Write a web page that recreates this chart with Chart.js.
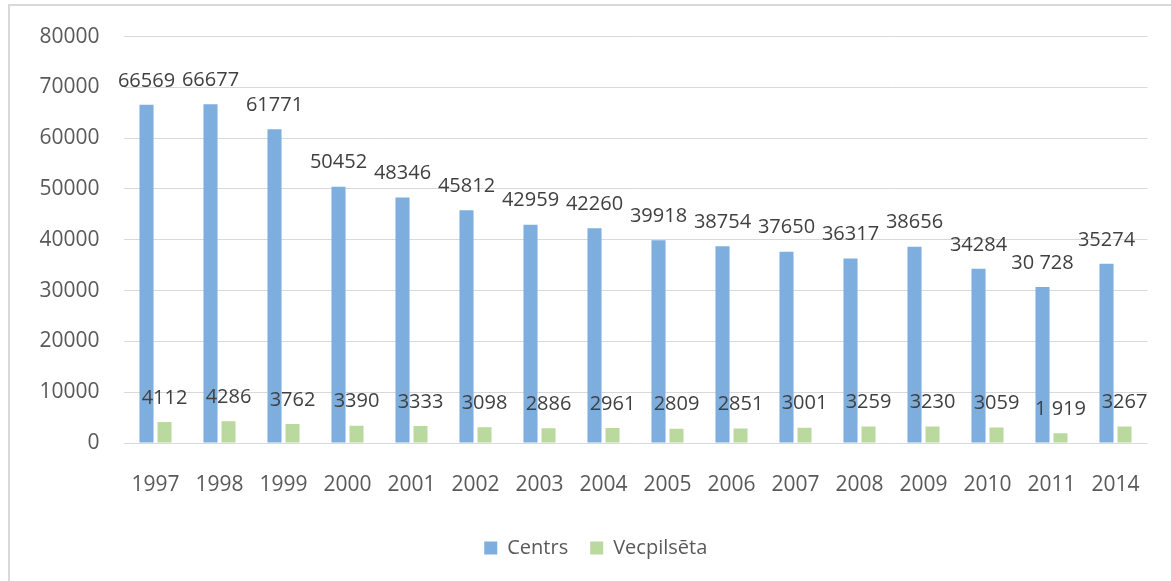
<!DOCTYPE html>
<html>
<head>
<meta charset="utf-8">
<script src="https://cdn.jsdelivr.net/npm/chart.js@4/dist/chart.umd.min.js"></script>
<style>
    html, body { margin: 0; padding: 0; background: #fff; }
    #wrap { position: relative; width: 1171px; height: 581px; overflow: hidden; }
    #frame {
        position: absolute; left: 8px; top: 4px; width: 1200px; height: 620px;
        border-left: 2px solid #d9d9d9; border-top: 2px solid #d9d9d9;
    }
    #chart { position: absolute; left: 0; top: 0; }
</style>
</head>
<body>
<div id="wrap">
    <div id="frame"></div>
    <canvas id="chart" width="1171" height="581"></canvas>
</div>
<script>
// Data
const years = ['1997', '1998', '1999', '2000', '2001', '2002', '2003', '2004',
               '2005', '2006', '2007', '2008', '2009', '2010', '2011', '2014'];
const centrs = [66569, 66677, 61771, 50452, 48346, 45812, 42959, 42260,
                39918, 38754, 37650, 36317, 38656, 34284, 30728, 35274];
const vecpilseta = [4112, 4286, 3762, 3390, 3333, 3098, 2886, 2961,
                    2809, 2851, 3001, 3259, 3230, 3059, 1919, 3267];
// label texts as printed (two of them use a thousands space)
const centrsText = ['66569', '66677', '61771', '50452', '48346', '45812', '42959', '42260',
                    '39918', '38754', '37650', '36317', '38656', '34284', '30 728', '35274'];
const vecpilsetaText = ['4112', '4286', '3762', '3390', '3333', '3098', '2886', '2961',
                        '2809', '2851', '3001', '3259', '3230', '3059', '1 919', '3267'];
const yTicks = [0, 10000, 20000, 30000, 40000, 50000, 60000, 70000, 80000];

const FONT = "'Open Sans', sans-serif";

// draws the value above every bar
const valueLabels = {
    id: 'valueLabels',
    afterDatasetsDraw(chart) {
        const ctx = chart.ctx;
        ctx.save();
        ctx.font = '20px ' + FONT;
        ctx.fillStyle = '#404040';
        ctx.textAlign = 'center';
        ctx.textBaseline = 'middle';
        chart.data.datasets.forEach((ds, i) => {
            const meta = chart.getDatasetMeta(i);
            meta.data.forEach((bar, j) => {
                ctx.fillText(ds.texts[j], bar.x, bar.y - 24);
            });
        });
        ctx.restore();
    }
};

// the legend sits a bit right of the canvas centre in the original
const legendShift = {
    id: 'legendShift',
    afterLayout(chart) {
        if (chart.legend) {
            chart.legend.left += 22;
            chart.legend.right += 22;
        }
    }
};

new Chart(document.getElementById('chart'), {
    type: 'bar',
    data: {
        labels: years,
        datasets: [
            {
                label: 'Centrs',
                data: centrs,
                texts: centrsText,
                backgroundColor: '#7eaedd',
                borderWidth: 0,
                categoryPercentage: 0.5625,
                barPercentage: 0.78
            },
            {
                label: 'Vecpilsēta',
                data: vecpilseta,
                texts: vecpilsetaText,
                backgroundColor: '#b9d99f',
                borderWidth: 0,
                categoryPercentage: 0.5625,
                barPercentage: 0.78
            }
        ]
    },
    options: {
        responsive: false,
        animation: false,
        layout: {
            padding: { left: 0, top: 35, right: 23.5, bottom: 13 }
        },
        plugins: {
            legend: {
                position: 'bottom',
                labels: {
                    boxWidth: 13,
                    boxHeight: 13,
                    padding: 22,
                    color: '#595959',
                    font: { family: FONT, size: 20 }
                }
            },
            tooltip: { enabled: false }
        },
        scales: {
            x: {
                grid: { display: false, drawTicks: false },
                border: { display: false },
                ticks: {
                    color: '#595959',
                    padding: 29,
                    maxRotation: 0,
                    font: { family: FONT, size: 21 }
                },
                afterFit: function (scale) { scale.height = 73; }
            },
            y: {
                min: 0,
                max: 80000,
                grid: { color: '#d9d9d9', lineWidth: 1, drawTicks: false },
                border: { display: false },
                afterBuildTicks: function (scale) {
                    scale.ticks = yTicks.map(v => ({ value: v }));
                },
                ticks: {
                    color: '#595959',
                    padding: 24,
                    font: { family: FONT, size: 21 },
                    callback: function (value) { return String(value); }
                },
                afterFit: function (scale) { scale.width = 123.5; }
            }
        }
    },
    plugins: [valueLabels, legendShift]
});
</script>
</body>
</html>
